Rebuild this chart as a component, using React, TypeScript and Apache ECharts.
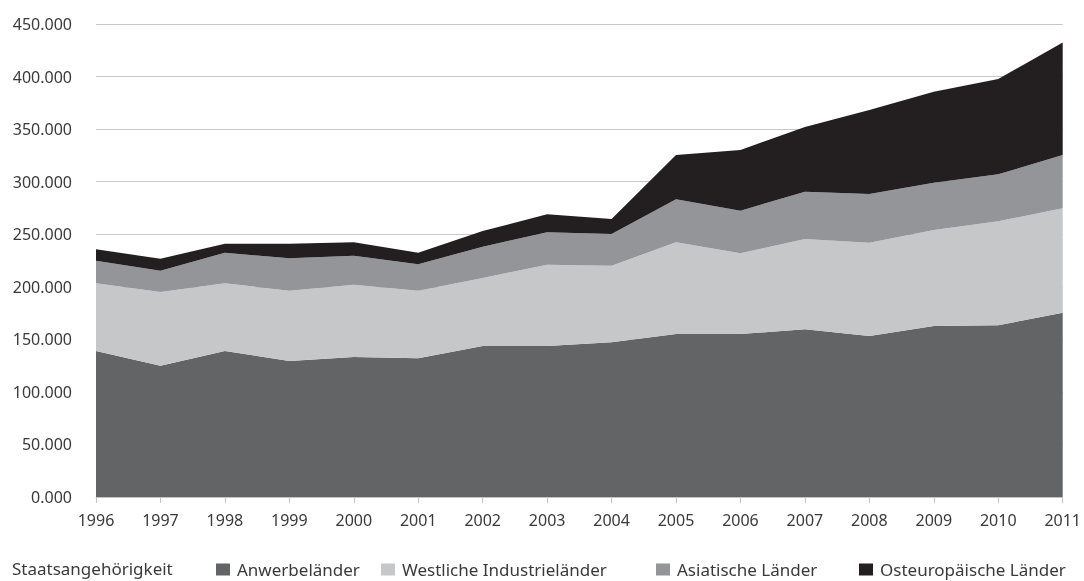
import React, { useEffect, useRef } from "react";
import * as echarts from "echarts";

const years = ["1996","1997","1998","1999","2000","2001","2002","2003","2004","2005","2006","2007","2008","2009","2010","2011"];
const anwerbe = [138900,124900,138900,129400,133200,132000,143700,143700,147200,155100,155100,159600,153200,162700,163400,175400];
const westlich = [64400,70200,64400,66900,68800,64300,64700,77300,72900,87200,76800,85900,88800,91300,98900,99300];
const asiatisch = [21500,20200,29100,30800,27600,25100,29800,30800,30100,40900,40500,45000,46300,45000,44700,50700];
const osteuropa = [10800,11400,8600,13900,12700,11000,14900,17200,14300,42200,57800,61500,79900,86600,90700,106900];

const seriesNames = ["Anwerbeländer","Westliche Industrieländer","Asiatische Länder","Osteuropäische Länder"];
const seriesColors = ["#636466","#c6c7c9","#939598","#231f20"];
const seriesData = [anwerbe, westlich, asiatisch, osteuropa];
const legendTitle = "Staatsangehörigkeit";
const legendLefts = [216, 381, 656, 859];

const FONT = "'Noto Sans', 'Open Sans', sans-serif";
const TEXT = "#3a3a3a";

export default function App() {
  const ref = useRef<HTMLDivElement>(null);
  useEffect(() => {
    if (!ref.current) return;
    const chart = echarts.init(ref.current, undefined, { renderer: "svg" });
    chart.setOption({
      animation: false,
      textStyle: { fontFamily: FONT },
      grid: { left: 96, right: 16, top: 24, bottom: 84 },
      xAxis: {
        type: "category",
        data: years,
        boundaryGap: false,
        axisLine: { show: true, lineStyle: { color: "#c4c4c4" } },
        axisTick: { show: true, length: 6, alignWithLabel: true, lineStyle: { color: "#c4c4c4" } },
        axisLabel: { color: TEXT, fontSize: 16, fontWeight: 400, margin: 15, fontFamily: FONT },
      },
      yAxis: {
        type: "value",
        min: 0,
        max: 450000,
        interval: 50000,
        axisLine: { show: false },
        axisTick: { show: false },
        splitLine: { lineStyle: { color: "#c8c8c8", width: 1 } },
        axisLabel: {
          color: TEXT,
          fontSize: 16,
          fontWeight: 400,
          margin: 24,
          fontFamily: FONT,
          formatter: (v: number) => (v / 1000).toFixed(0) + ".000",
        },
      },
      legend: seriesNames.map((n, i) => ({
        data: [n],
        left: legendLefts[i],
        top: 561,
        padding: 0,
        itemWidth: 14,
        itemHeight: 12,
        icon: "rect",
        textStyle: { color: TEXT, fontSize: 17, fontWeight: 400, fontFamily: FONT, padding: [0, 0, 0, 2] },
      })),
      graphic: [
        {
          type: "text",
          left: 12,
          top: 560,
          style: { text: legendTitle, fill: TEXT, font: `400 17px ${FONT}` },
        },
      ],
      series: seriesNames.map((n, i) => ({
        name: n,
        type: "line",
        stack: "total",
        data: seriesData[i],
        symbol: "none",
        lineStyle: { width: 0 },
        areaStyle: { color: seriesColors[i], opacity: 1 },
        itemStyle: { color: seriesColors[i] },
        emphasis: { disabled: true },
      })),
    });
    return () => chart.dispose();
  }, []);
  return <div ref={ref} style={{ position: "fixed", left: 0, top: 0, width: 1084, height: 581 }} />;
}
